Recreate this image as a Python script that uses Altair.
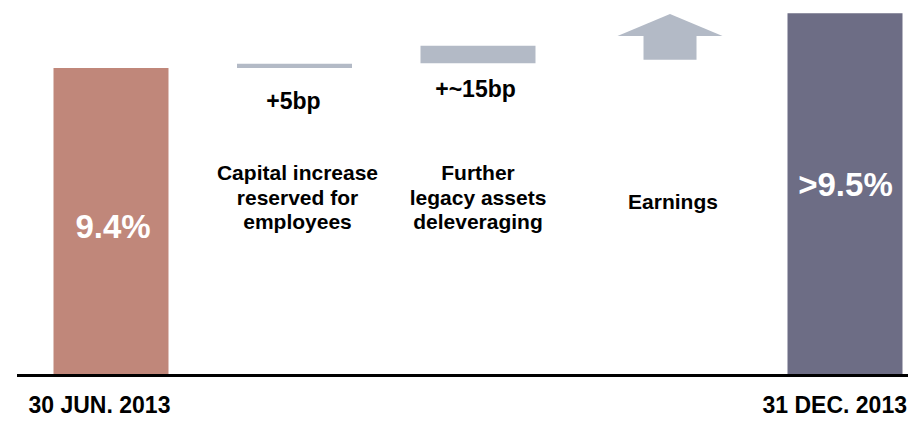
import altair as alt
import pandas as pd

# ---- data (schematic units, baseline = 0) ----
steps = ["start", "capital", "legacy", "earnings", "end"]
kinds = ["total", "step", "step", "arrow", "total"]
bar_low = [0, 83.7, 85.0, 85.9, 0]
bar_high = [83.7, 84.8, 89.7, 92.4, 98.6]
value_labels = ["9.4%", "+5bp", "+~15bp", "", ">9.5%"]
descriptions = ["", "Capital increase\nreserved for\nemployees",
                "Further\nlegacy assets\ndeleveraging", "Earnings", ""]
date_labels = ["30 JUN. 2013", "", "", "", "31 DEC. 2013"]
bar_colors = ["#c0877a", "#b3bac6", "#b3bac6", "#b3bac6", "#6d6d85"]

df = pd.DataFrame({
    "step": steps, "kind": kinds, "low": bar_low, "high": bar_high,
    "value_label": value_labels, "desc": descriptions, "date": date_labels,
})

FONT = "Liberation Sans"
GREY = "#b3bac6"
X_RANGE = [11.25, 928.75]


def x_enc(band=0.5):
    return alt.X("step:N", sort=steps, axis=None, bandPosition=band,
                 scale=alt.Scale(domain=steps, range=X_RANGE,
                                 paddingInner=0.3733, paddingOuter=0.18665))


y_scale = alt.Scale(domain=[-14, 100], range=[419, 0], nice=False, zero=False)

base = alt.Chart(df)

bars = base.transform_filter(alt.datum.kind != "arrow").mark_bar().encode(
    x=x_enc(),
    y=alt.Y("low:Q", scale=y_scale, axis=None),
    y2="high:Q",
    color=alt.Color("step:N", scale=alt.Scale(domain=steps, range=bar_colors), legend=None),
)

ARROW_BAND = 0.574
arrow = base.transform_filter(alt.datum.kind == "arrow")
shaft = arrow.mark_rule(strokeWidth=53, color=GREY, strokeCap="butt").encode(
    x=x_enc(ARROW_BAND), y=alt.Y("low:Q", scale=y_scale, axis=None), y2="high:Q",
)
head = arrow.mark_point(
    shape="M-1,0L1,0L0,-0.42Z", size=11025, filled=True, opacity=1,
    color=GREY, strokeWidth=0,
).encode(x=x_enc(ARROW_BAND), y=alt.Y("high:Q", scale=y_scale, axis=None))

baseline = alt.Chart(pd.DataFrame({"v": [0]})).mark_rule(color="black", strokeWidth=3).encode(
    y=alt.Y("v:Q", scale=y_scale, axis=None), x=alt.value(9), x2=alt.value(900),
)


def label(step, field, y_px, dx, size, color, align="center", band=0.5):
    return base.transform_filter(alt.datum.step == step).mark_text(
        font=FONT, fontWeight="bold", fontSize=size, color=color, align=align,
        baseline="alphabetic", dx=dx, lineBreak="\n", lineHeight=24.5,
    ).encode(x=x_enc(band), y=alt.value(y_px), text=f"{field}:N")


layers = [
    bars, shaft, head, baseline,
    label("start", "value_label", 230, 2, 33, "white"),
    label("end", "value_label", 188, 0.5, 33, "white"),
    label("capital", "value_label", 101, -1, 23, "black"),
    label("legacy", "value_label", 89, -2.5, 23, "black"),
    label("capital", "desc", 172, 3, 21, "black"),
    label("legacy", "desc", 172, 0, 21, "black"),
    label("earnings", "desc", 201, 11.5, 21, "black"),
    label("start", "date", 405, -25, 23, "black", align="left", band=0),
    label("end", "date", 405, 4.5, 23, "black", align="right", band=1),
]

chart = alt.layer(*layers).properties(
    width=900, height=411,
    autosize=alt.AutoSizeParams(type="none"), padding=0,
    background="white",
).configure_view(stroke=None)

chart.save("out.html", embed_options={"renderer": "svg", "actions": False})
